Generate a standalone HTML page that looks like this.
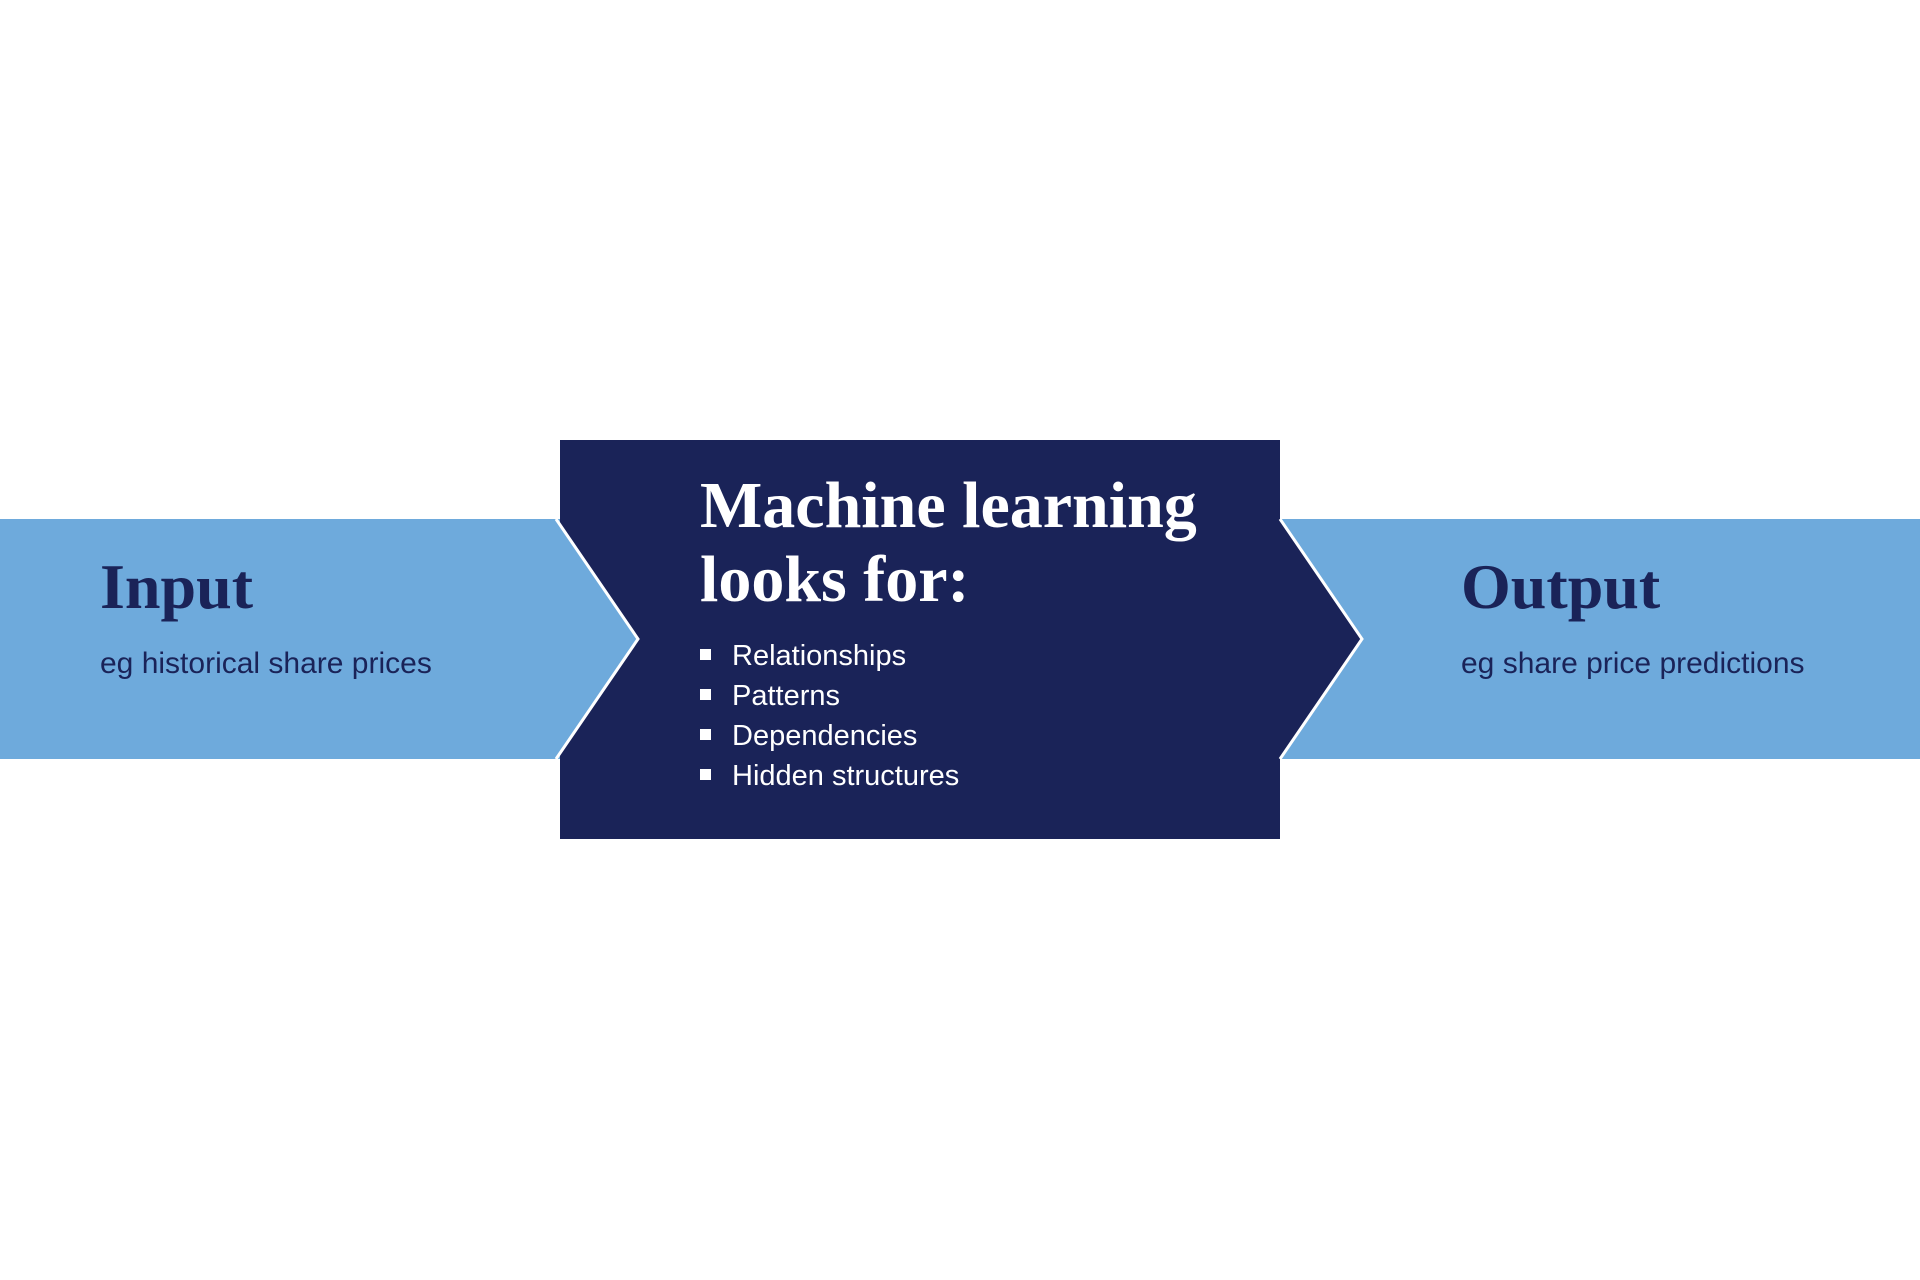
<!DOCTYPE html>
<html><head><meta charset="utf-8"><style>
html,body{margin:0;padding:0;background:#fff;}
body{width:1920px;height:1280px;position:relative;overflow:hidden;}
svg{position:absolute;left:0;top:0;}
.t{position:absolute;white-space:nowrap;}
.serif{font-family:"Liberation Serif",serif;font-weight:bold;}
.sans{font-family:"Liberation Sans",sans-serif;}
</style></head><body>
<svg width="1920" height="1280">
  <rect x="0" y="519" width="1920" height="240" fill="#6eaadc"/>
  <rect x="560" y="440" width="720" height="399" fill="#1a2358"/>
  <polygon points="1280,519 1362,639 1280,759 1280,519" fill="#1a2358"/>
  <polyline points="1280,519 1362,639 1280,759" fill="none" stroke="#fff" stroke-width="3"/>
  <polygon points="556,519 638,639 556,759 540,759 540,519" fill="#6eaadc"/>
  <polyline points="556,519 638,639 556,759" fill="none" stroke="#fff" stroke-width="3"/>
</svg>
<div class="t serif" style="left:100px;top:550px;font-size:64px;color:#1a2358;">Input</div>
<div class="t sans" style="left:100px;top:647px;font-size:30px;color:#1a2358;">eg historical share prices</div>
<div class="t serif" style="left:1461px;top:550px;font-size:64px;color:#1a2358;">Output</div>
<div class="t sans" style="left:1461px;top:647px;font-size:30px;color:#1a2358;">eg share price predictions</div>
<div class="t serif" style="left:700px;top:469px;font-size:66px;line-height:74px;color:#fff;">Machine learning<br>looks for:</div>
<div class="t sans" style="left:700px;top:636px;font-size:29px;line-height:40px;color:#fff;">
<div><span style="display:inline-block;width:11px;height:11px;background:#fff;margin:0 21px 5px 0;"></span>Relationships</div>
<div><span style="display:inline-block;width:11px;height:11px;background:#fff;margin:0 21px 5px 0;"></span>Patterns</div>
<div><span style="display:inline-block;width:11px;height:11px;background:#fff;margin:0 21px 5px 0;"></span>Dependencies</div>
<div><span style="display:inline-block;width:11px;height:11px;background:#fff;margin:0 21px 5px 0;"></span>Hidden structures</div>
</div>
</body></html>
